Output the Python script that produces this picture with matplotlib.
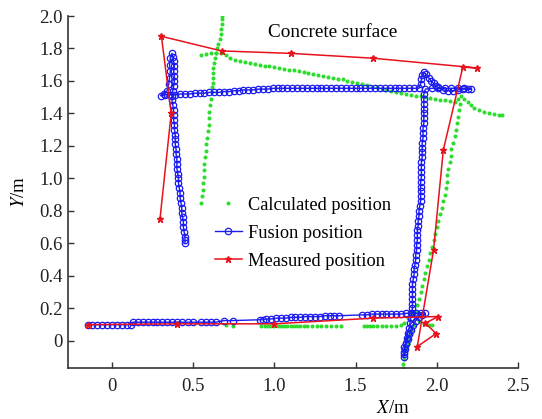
import numpy as np
import matplotlib
matplotlib.use("Agg")
import matplotlib.pyplot as plt

plt.rcParams['font.family'] = ['Liberation Serif', 'DejaVu Serif']
plt.rcParams['mathtext.fontset'] = 'stix'

# calculated position (green dots), one list per stretch of the route
calc_left = [(0.55, 0.85), (0.555, 0.89), (0.56, 0.93), (0.56, 0.97), (0.565, 1.01), (0.57, 1.05),
             (0.57, 1.09), (0.575, 1.13), (0.58, 1.17), (0.58, 1.21), (0.585, 1.25), (0.59, 1.29),
             (0.595, 1.33), (0.60, 1.37), (0.60, 1.41), (0.605, 1.45), (0.61, 1.49), (0.615, 1.53),
             (0.615, 1.56), (0.62, 1.59), (0.62, 1.62), (0.625, 1.65), (0.625, 1.68), (0.63, 1.71),
             (0.635, 1.74), (0.64, 1.77), (0.645, 1.80), (0.655, 1.83), (0.665, 1.86), (0.67, 1.89),
             (0.67, 1.92), (0.675, 1.95), (0.68, 1.98), (0.68, 2.00)]
calc_top = [(0.55, 1.76), (0.58, 1.765), (0.61, 1.77), (0.64, 1.775), (0.67, 1.77), (0.70, 1.76),
            (0.73, 1.74), (0.76, 1.73), (0.79, 1.72), (0.82, 1.715), (0.85, 1.71), (0.88, 1.705),
            (0.91, 1.70), (0.94, 1.695), (0.97, 1.69), (1.00, 1.685), (1.03, 1.68), (1.06, 1.675),
            (1.09, 1.67), (1.12, 1.665), (1.15, 1.66), (1.18, 1.655), (1.21, 1.65), (1.24, 1.645),
            (1.27, 1.635), (1.30, 1.63), (1.33, 1.625), (1.36, 1.62), (1.39, 1.615), (1.42, 1.61),
            (1.45, 1.60), (1.48, 1.595), (1.51, 1.59), (1.54, 1.58), (1.57, 1.575), (1.60, 1.565),
            (1.63, 1.56), (1.66, 1.55), (1.69, 1.545), (1.72, 1.54), (1.75, 1.53), (1.78, 1.525),
            (1.81, 1.52), (1.84, 1.515), (1.87, 1.51), (1.90, 1.505), (1.93, 1.50), (1.96, 1.495),
            (1.99, 1.49), (2.02, 1.485), (2.05, 1.48), (2.08, 1.475), (2.11, 1.47), (2.13, 1.49),
            (2.15, 1.51), (2.17, 1.49), (2.19, 1.47), (2.21, 1.45), (2.23, 1.435), (2.26, 1.42),
            (2.29, 1.41), (2.32, 1.40), (2.35, 1.395), (2.38, 1.39), (2.40, 1.39)]
calc_right = [(2.14, 1.46), (2.135, 1.42), (2.13, 1.38), (2.125, 1.34), (2.12, 1.30), (2.11, 1.26),
              (2.10, 1.22), (2.09, 1.18), (2.085, 1.14), (2.08, 1.10), (2.07, 1.06), (2.065, 1.02),
              (2.06, 0.98), (2.055, 0.94), (2.05, 0.90), (2.04, 0.86), (2.03, 0.82), (2.02, 0.78),
              (2.01, 0.74), (2.00, 0.70), (1.99, 0.66), (1.98, 0.62), (1.97, 0.58), (1.96, 0.54),
              (1.95, 0.50), (1.94, 0.46), (1.93, 0.42), (1.92, 0.38), (1.91, 0.34), (1.90, 0.30),
              (1.89, 0.26), (1.88, 0.22), (1.875, 0.18), (1.87, 0.14), (1.86, 0.10), (1.85, 0.07),
              (1.84, 0.04), (1.83, 0.01), (1.82, -0.02), (1.81, -0.05), (1.80, -0.08), (1.795, -0.11),
              (1.79, -0.14), (1.79, -0.165)]
calc_corner = [(1.89, 0.12), (1.92, 0.105), (1.95, 0.095), (1.97, 0.10)]
calc_bottom = [(0.70, 0.095), (0.745, 0.09), (0.92, 0.09), (0.94, 0.09), (0.96, 0.09), (0.98, 0.09),
               (1.00, 0.09), (1.02, 0.09), (1.04, 0.09), (1.06, 0.09), (1.08, 0.09), (1.10, 0.09),
               (1.12, 0.09), (1.14, 0.09), (1.16, 0.09), (1.18, 0.09), (1.20, 0.09), (1.23, 0.09),
               (1.26, 0.09), (1.29, 0.09), (1.32, 0.09), (1.35, 0.09), (1.38, 0.09), (1.41, 0.09),
               (1.55, 0.09), (1.57, 0.09), (1.59, 0.09), (1.61, 0.09), (1.63, 0.09), (1.66, 0.09),
               (1.69, 0.09), (1.72, 0.09), (1.75, 0.09), (1.78, 0.095), (1.80, 0.11), (1.82, 0.14),
               (1.84, 0.17)]

# fusion position (blue circles), in travel order
fus_left = [(0.45, 0.60), (0.45, 0.62), (0.45, 0.64), (0.445, 0.67), (0.44, 0.70), (0.44, 0.73),
            (0.435, 0.76), (0.43, 0.79), (0.43, 0.82), (0.425, 0.85), (0.42, 0.88), (0.42, 0.91),
            (0.415, 0.94), (0.41, 0.97), (0.41, 1.00), (0.405, 1.03), (0.40, 1.06), (0.40, 1.09),
            (0.40, 1.12), (0.395, 1.15), (0.395, 1.18), (0.39, 1.21), (0.39, 1.24), (0.39, 1.27),
            (0.385, 1.30), (0.385, 1.33), (0.38, 1.36), (0.38, 1.39), (0.38, 1.42), (0.375, 1.45),
            (0.37, 1.48), (0.37, 1.51), (0.375, 1.54), (0.38, 1.57), (0.385, 1.60), (0.385, 1.63),
            (0.38, 1.66), (0.385, 1.69), (0.38, 1.72), (0.375, 1.75), (0.37, 1.77), (0.36, 1.74),
            (0.355, 1.70), (0.36, 1.66), (0.355, 1.62), (0.35, 1.58), (0.34, 1.54), (0.32, 1.52),
            (0.30, 1.51)]
fus_top = [(0.33, 1.515), (0.36, 1.515), (0.39, 1.515), (0.42, 1.52), (0.45, 1.52), (0.48, 1.52),
           (0.51, 1.525), (0.54, 1.525), (0.57, 1.525), (0.60, 1.53), (0.63, 1.53), (0.66, 1.53),
           (0.69, 1.535), (0.72, 1.535), (0.75, 1.54), (0.78, 1.54), (0.81, 1.545), (0.84, 1.545),
           (0.87, 1.545), (0.90, 1.55), (0.93, 1.55), (0.96, 1.55), (0.99, 1.555), (1.02, 1.555),
           (1.05, 1.555), (1.08, 1.555), (1.11, 1.555), (1.14, 1.555), (1.17, 1.555), (1.20, 1.555),
           (1.23, 1.555), (1.26, 1.555), (1.29, 1.555), (1.32, 1.555), (1.35, 1.555), (1.38, 1.555),
           (1.41, 1.555), (1.44, 1.555), (1.47, 1.555), (1.50, 1.555), (1.53, 1.555), (1.56, 1.555),
           (1.59, 1.555), (1.62, 1.555), (1.65, 1.555), (1.68, 1.555), (1.71, 1.555), (1.74, 1.555),
           (1.77, 1.555), (1.80, 1.555), (1.83, 1.555), (1.86, 1.555), (1.89, 1.555)]
fus_spur = [(1.90, 1.58), (1.905, 1.61), (1.91, 1.635), (1.92, 1.655), (1.935, 1.64), (1.95, 1.62),
            (1.965, 1.60), (1.98, 1.585), (1.995, 1.57), (2.01, 1.56), (2.04, 1.545), (2.07, 1.54),
            (2.10, 1.54), (2.13, 1.545), (2.16, 1.55), (2.19, 1.55), (2.21, 1.55), (2.17, 1.555),
            (2.13, 1.555), (2.09, 1.555), (2.05, 1.555), (2.01, 1.555), (1.97, 1.555), (1.93, 1.55)]
fus_right = [(1.92, 1.52), (1.92, 1.49), (1.92, 1.46), (1.92, 1.43), (1.92, 1.40), (1.92, 1.37),
             (1.92, 1.34), (1.915, 1.31), (1.915, 1.28), (1.915, 1.25), (1.91, 1.22), (1.91, 1.19),
             (1.91, 1.16), (1.91, 1.13), (1.905, 1.10), (1.905, 1.07), (1.905, 1.04), (1.905, 1.01),
             (1.90, 0.98), (1.90, 0.95), (1.90, 0.92), (1.90, 0.89), (1.90, 0.86), (1.895, 0.83),
             (1.89, 0.80), (1.89, 0.77), (1.885, 0.74), (1.885, 0.71), (1.88, 0.68), (1.88, 0.65),
             (1.88, 0.62), (1.875, 0.59), (1.875, 0.56), (1.87, 0.53), (1.87, 0.50), (1.865, 0.47),
             (1.86, 0.44), (1.86, 0.41), (1.855, 0.38), (1.85, 0.35), (1.85, 0.32), (1.85, 0.29),
             (1.85, 0.26), (1.85, 0.23), (1.85, 0.20), (1.845, 0.17), (1.84, 0.14), (1.835, 0.11),
             (1.83, 0.08), (1.82, 0.05), (1.815, 0.02), (1.81, -0.01), (1.80, -0.04), (1.80, -0.07),
             (1.795, -0.10)]
fus_hook = [(1.80, -0.08), (1.805, -0.05), (1.81, -0.02), (1.82, 0.01), (1.83, 0.04), (1.84, 0.07),
            (1.855, 0.10), (1.87, 0.125), (1.89, 0.145), (1.91, 0.16), (1.93, 0.17)]
fus_bottom = [(1.90, 0.17), (1.87, 0.17), (1.84, 0.17), (1.81, 0.17), (1.78, 0.165), (1.75, 0.165),
              (1.72, 0.165), (1.69, 0.165), (1.66, 0.165), (1.63, 0.165), (1.60, 0.165), (1.57, 0.16),
              (1.54, 0.16), (1.40, 0.155), (1.37, 0.155), (1.34, 0.155), (1.31, 0.155), (1.28, 0.15),
              (1.25, 0.15), (1.22, 0.15), (1.19, 0.15), (1.16, 0.145), (1.13, 0.145), (1.10, 0.145),
              (1.07, 0.14), (1.04, 0.14), (1.01, 0.14), (0.98, 0.135), (0.95, 0.135), (0.93, 0.13),
              (0.91, 0.13), (0.745, 0.125), (0.69, 0.125), (0.64, 0.115), (0.61, 0.115), (0.58, 0.115),
              (0.55, 0.115), (0.50, 0.115), (0.47, 0.115), (0.43, 0.115), (0.40, 0.115), (0.37, 0.115),
              (0.34, 0.115), (0.31, 0.115), (0.28, 0.115), (0.25, 0.115), (0.22, 0.115), (0.19, 0.115),
              (0.16, 0.115), (0.13, 0.115), (0.12, 0.10), (0.09, 0.10), (0.06, 0.10), (0.03, 0.10),
              (0.00, 0.10), (-0.03, 0.10), (-0.06, 0.10), (-0.09, 0.10), (-0.12, 0.10), (-0.15, 0.10)]

# measured position (red)
measured = [(0.296, 0.75), (0.365, 1.40), (0.305, 1.875), (0.675, 1.785), (1.10, 1.77), (1.61, 1.74),
            (2.25, 1.68), (2.16, 1.685), (2.04, 1.175), (1.98, 0.56), (1.88, -0.035), (1.995, 0.045),
            (1.93, 0.11), (2.01, 0.15), (1.61, 0.14), (1.00, 0.105), (0.40, 0.105), (-0.15, 0.10)]

x_ticks = [0, 0.5, 1.0, 1.5, 2.0, 2.5]
x_tick_labels = ["0", "0.5", "1.0", "1.5", "2.0", "2.5"]
y_ticks = [0, 0.2, 0.4, 0.6, 0.8, 1.0, 1.2, 1.4, 1.6, 1.8, 2.0]
y_tick_labels = ["0", "0.2", "0.4", "0.6", "0.8", "1.0", "1.2", "1.4", "1.6", "1.8", "2.0"]

calc = np.array(calc_left + calc_top + calc_right + calc_corner + calc_bottom)
fusion = np.array(fus_left + fus_top + fus_spur + fus_right + fus_hook + fus_bottom)
meas = np.array(measured)

fig = plt.figure(figsize=(5.42, 4.19), dpi=100)
ax = fig.add_axes([0.1255, 0.1217, 0.8303, 0.8401])

ax.plot(calc[:, 0], calc[:, 1], linestyle='none', marker='.', markersize=3.8,
        color='#2edc2e', label='Calculated position')
ax.plot(fusion[:, 0], fusion[:, 1], '-', color='#1c1cf0', linewidth=1.0, marker='o',
        markersize=4.6, markerfacecolor='none', markeredgewidth=0.9, label='Fusion position')
ax.plot(meas[:, 0], meas[:, 1], '-', color='#e8121c', linewidth=1.1, marker='*',
        markersize=5, label='Measured position')

ax.text(0.96, 1.90, 'Concrete surface', fontsize=13.8, ha='left', va='center')

ax.set_xlim(-0.27, 2.5)
ax.set_ylim(-0.167, 2.0)
ax.set_xticks(x_ticks)
ax.set_xticklabels(x_tick_labels)
ax.set_yticks(y_ticks)
ax.set_yticklabels(y_tick_labels)
ax.tick_params(direction='in', length=4, width=1, labelsize=13.5, colors='#333333',
               labelcolor='#222222')
ax.tick_params(axis='x', pad=7)
ax.tick_params(axis='y', pad=4)
for side in ['top', 'right']:
    ax.spines[side].set_visible(False)
for side in ['left', 'bottom']:
    ax.spines[side].set_linewidth(1.2)
    ax.spines[side].set_color('#333333')

ax.set_xlabel(r'$X$/m', fontsize=13.5)
ax.xaxis.set_label_coords(0.722, -0.09)
ax.set_ylabel(r'$Y$/m', fontsize=13.5)
ax.yaxis.set_label_coords(-0.09, 0.5)

ax.legend(loc='upper left', bbox_to_anchor=(0.327, 0.487), frameon=False, fontsize=13.2,
          borderpad=0, borderaxespad=0, handlelength=1.45, handletextpad=0.35,
          labelspacing=0.6, markerscale=1.0)

fig.savefig('out.png', dpi=100)
